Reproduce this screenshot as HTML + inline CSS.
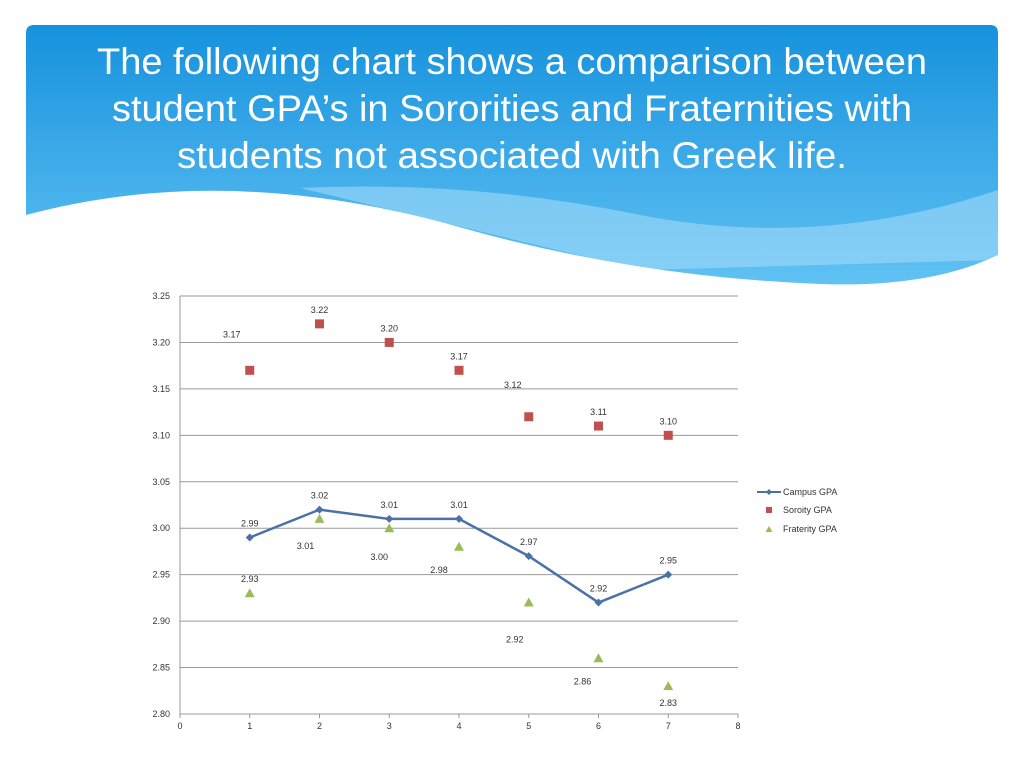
<!DOCTYPE html>
<html><head><meta charset="utf-8"><style>
body{margin:0;width:1024px;height:768px;background:#fff;overflow:hidden;font-family:"Liberation Sans",sans-serif}
</style></head><body>
<svg width="1024" height="768">
<defs>
<linearGradient id="bg" x1="0" y1="0" x2="0" y2="1"><stop offset="0" stop-color="#1692dd"/><stop offset="1" stop-color="#63c3f4"/></linearGradient>
</defs>
<g>
<path d="M34,25 H990 Q998,25 998,33 V292 H26 V33 Q26,25 34,25 Z" fill="url(#bg)"/>
<path d="M300,188 Q470,180 640,215 Q820,250 998,190 V260 L640,270 Z" fill="#a8dcfa" opacity="0.55"/>
<path d="M26,215 Q230,160 470,230 Q640,277 820,284 Q930,288 998,255 V294 H26 Z" fill="#fff"/>
</g>
<g font-family="Liberation Sans, sans-serif" font-size="37" fill="#fff" text-anchor="middle">
<text x="512" y="74" textLength="830" lengthAdjust="spacingAndGlyphs">The following chart shows a comparison between</text>
<text x="512" y="121" textLength="800" lengthAdjust="spacingAndGlyphs">student GPA’s in Sororities and Fraternities with</text>
<text x="512" y="168" textLength="670" lengthAdjust="spacingAndGlyphs">students not associated with Greek life.</text>
</g>
<g id="chart"></g>
<g font-size="9" fill="#333">
<line x1="757" y1="492" x2="781" y2="492" stroke="#4a71a8" stroke-width="2"/>
<path d="M769,489 l3,3 l-3,3 l-3,-3Z" fill="#4a71a8"/>
<text x="783" y="495">Campus GPA</text>
<rect x="766" y="507" width="6" height="6" fill="#c0504d"/>
<text x="783" y="513">Soroity GPA</text>
<path d="M769,526 l3.5,6 h-7Z" fill="#9bbb59"/>
<text x="783" y="532">Fraterity GPA</text>
</g>
</svg>
<script>
const categories=[1,2,3,4,5,6,7];
const campus=[2.99,3.02,3.01,3.01,2.97,2.92,2.95];
const sorority=[3.17,3.22,3.20,3.17,3.12,3.11,3.10];
const fraternity=[2.93,3.01,3.00,2.98,2.92,2.86,2.83];
const yTicks=[2.80,2.85,2.90,2.95,3.00,3.05,3.10,3.15,3.20,3.25];
const xTicks=[0,1,2,3,4,5,6,7,8];
const NS='http://www.w3.org/2000/svg';
const g=document.getElementById('chart');
const X=v=>180+v*(738-180)/8;
const Y=v=>714-(v-2.80)*(714-296)/0.45;
function mk(t,a,txt){const e=document.createElementNS(NS,t);for(const k in a)e.setAttribute(k,a[k]);if(txt!==undefined)e.textContent=txt;g.appendChild(e);return e;}
yTicks.forEach(v=>{
const l=mk('line',{x1:X(0),x2:X(8),y1:Y(v),y2:Y(v),stroke:'#999','stroke-width':1});


const t=mk('text',{x:170,y:Y(v)+3,'font-size':9,fill:'#333','text-anchor':'end'},v.toFixed(2));


});
mk('line',{x1:X(0),x2:X(0),y1:Y(3.25),y2:Y(2.8),stroke:'#999'});
xTicks.forEach(v=>{
mk('line',{x1:X(v),x2:X(v),y1:714,y2:718,stroke:'#999'});
const t=mk('text',{x:X(v),y:729,'font-size':9,fill:'#333','text-anchor':'middle'},v);


});
const p=mk('polyline',{points:categories.map((c,i)=>X(c)+','+Y(campus[i])).join(' '),fill:'none',stroke:'#4a71a8','stroke-width':2.5});


const lab=(x,y,s)=>{const t=mk('text',{x:x,y:y,'font-size':9,fill:'#333','text-anchor':'middle'},s);};
categories.forEach((c,i)=>{
const cx=X(c),cy=Y(campus[i]);
const d=mk('path',{d:`M${cx},${cy-4} l4,4 l-4,4 l-4,-4Z`,fill:'#4a71a8'});


lab(cx,cy-11,campus[i].toFixed(2));
const sy=Y(sorority[i]);
const r=mk('rect',{x:cx-4.5,y:sy-4.5,width:9,height:9,fill:'#c0504d'});


lab(i===0?cx-18:i===4?cx-16:cx,i===0?sy-33:i===4?sy-29:sy-11,sorority[i].toFixed(2));
const fy=Y(fraternity[i]);
const tr=mk('path',{d:`M${cx},${fy-5} l5,9 h-10Z`,fill:'#9bbb59'});


const off=[[0,-11],[-14,30],[-10,32],[-20,26],[-14,40],[-16,26],[0,20]][i];
lab(cx+off[0],fy+off[1],fraternity[i].toFixed(2));
});
</script>
</body></html>
